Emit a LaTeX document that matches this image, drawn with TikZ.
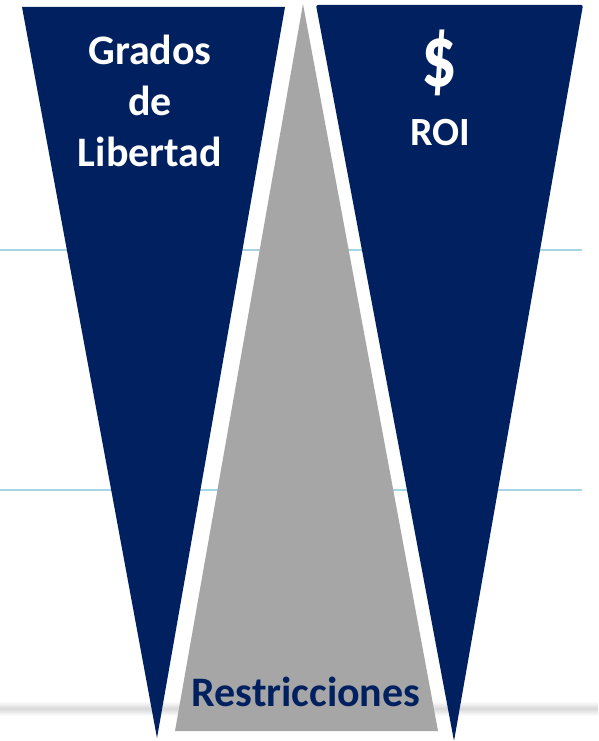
\documentclass[tikz,border=0pt]{standalone}
\usepackage{fontspec}
\setmainfont{Carlito}
\usepackage{tikz}

\definecolor{navy}{HTML}{002060}
\definecolor{greyfill}{HTML}{A6A6A6}
\definecolor{rulecyan}{HTML}{A5D5E5}

\begin{document}
\begin{tikzpicture}[x=1pt,y=-1pt]
             \useasboundingbox (0,0) rectangle (598,741);

             \shade[top color=white,bottom color=white,middle color=black!15] (0,701) rectangle (598,716);
             \draw[rulecyan, line width=2pt] (0,250) -- (582,250);
             \draw[rulecyan, line width=2pt] (0,490) -- (582,490);

             \fill[navy] (22,7) -- (285,7) -- (157,738) -- cycle;
             \fill[navy, rounded corners=2pt] (316,5) -- (583,5) -- (454,741) -- cycle;
             \fill[greyfill] (303,4) -- (438,731) -- (175,731) -- cycle;

             \node[draw=none, text=white, align=center, font=\bfseries\fontsize{42}{51}\selectfont] (grados) at (150,101) {Grados\\de\\Libertad};
             \node[draw=none, text=white, font=\bfseries\fontsize{88}{90}\selectfont] (dollar) at (439,63) {\scalebox{0.8}[1]{\$}};
             \node[draw=none, text=white, font=\bfseries\fontsize{40}{48}\selectfont] (roi) at (440,133) {ROI};
             \node[draw=none, text=navy, font=\bfseries\fontsize{42}{51}\selectfont] (restr) at (306,692) {Restricciones};
\end{tikzpicture}
\end{document}
